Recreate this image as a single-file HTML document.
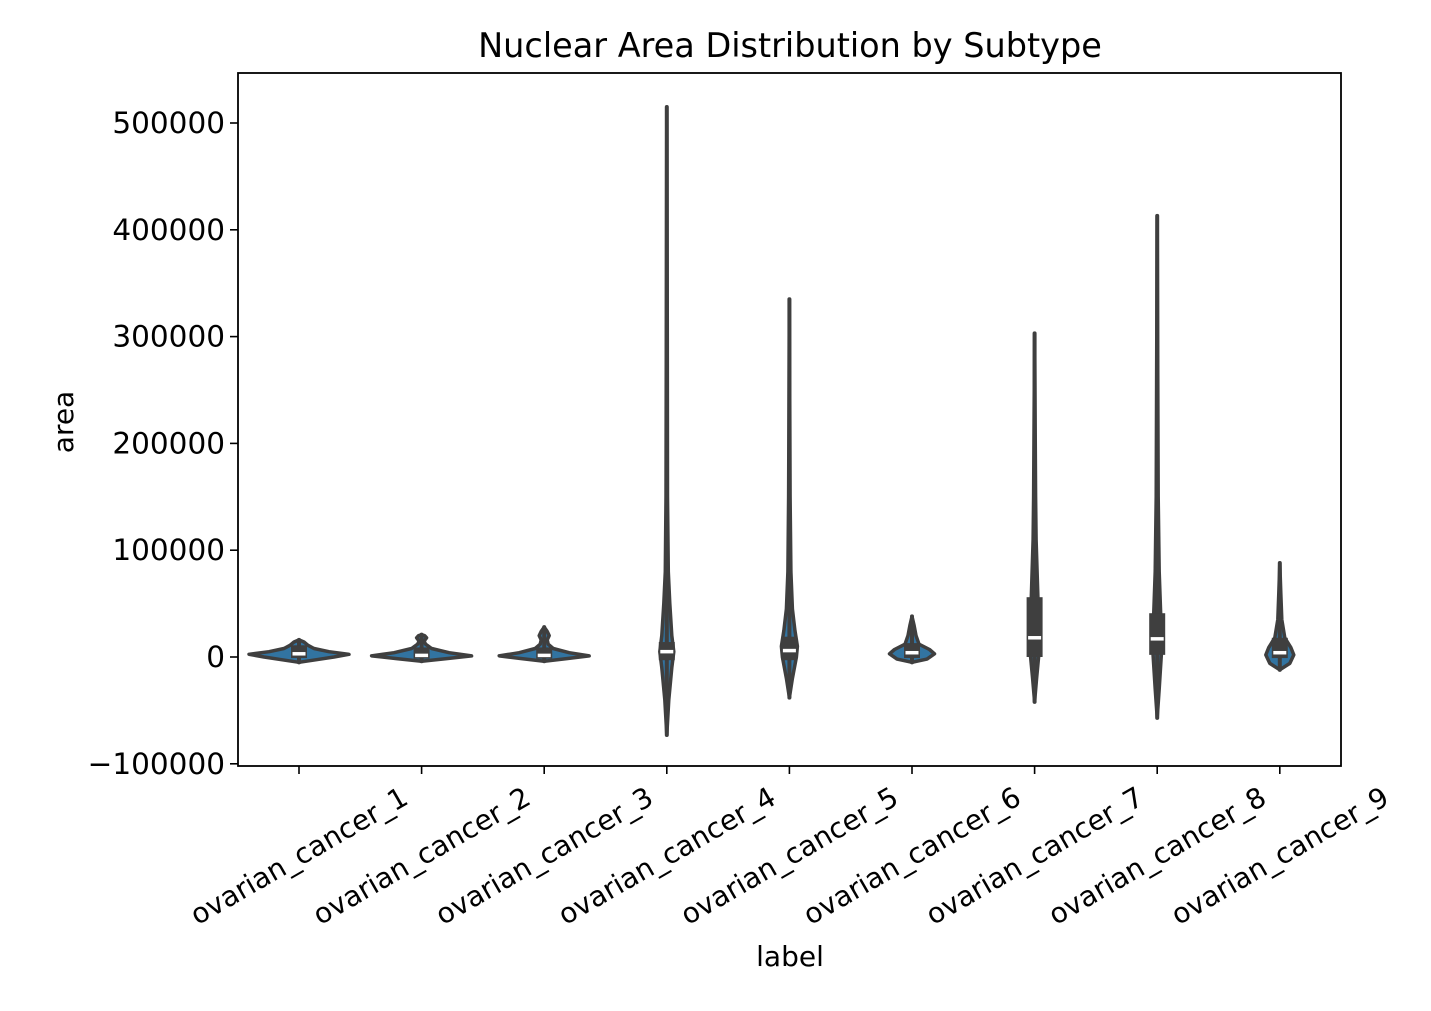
<!DOCTYPE html>
<html><head><meta charset="utf-8"><style>
html,body{margin:0;padding:0;background:#fff;}
svg text{font-family:"DejaVu Sans","Liberation Sans",sans-serif;fill:#000;}
</style></head><body>
<svg id="chart" width="1431" height="1006" viewBox="0 0 1431 1006" xmlns="http://www.w3.org/2000/svg">
<rect width="1431" height="1006" fill="#fff"/>
<text x="790" y="57" font-size="33.5" text-anchor="middle">Nuclear Area Distribution by Subtype</text>
<g id="marks"></g>
<g id="axes"></g>
<text transform="translate(73,422) rotate(-90)" font-size="28" text-anchor="middle">area</text>
<text x="790" y="966" font-size="28" text-anchor="middle">label</text>
</svg>
<script>
const categories = ["ovarian_cancer_1","ovarian_cancer_2","ovarian_cancer_3","ovarian_cancer_4","ovarian_cancer_5","ovarian_cancer_6","ovarian_cancer_7","ovarian_cancer_8","ovarian_cancer_9"];
const mins = [-5000,-4000,-4000,-73000,-38000,-5000,-42000,-57000,-12000];
const maxs = [16000,21000,28000,515000,335000,38000,303000,413000,88000];
const q1s = [-1000,-1500,-1500,-3000,-3000,-1000,0,2000,-1000];
const medians = [3000,1500,1500,5000,6000,4000,18000,17000,4000];
const q3s = [11000,9000,9000,14000,19000,13000,56000,41000,18000];
// density profiles: [value, relative half-width]
const densities = [
 [[-5000,0],[-2500,0.35],[0,0.7],[2500,1.0],[5000,0.6],[8000,0.3],[11000,0.18],[14000,0.1],[16000,0]],
 [[-4000,0],[-1500,0.5],[1000,1.0],[4000,0.55],[8000,0.2],[12000,0.08],[15000,0.05],[18000,0.1],[20000,0.06],[21000,0]],
 [[-4000,0],[-1500,0.45],[1000,0.9],[4000,0.5],[8000,0.18],[12000,0.08],[16000,0.06],[20000,0.1],[24000,0.06],[28000,0]],
 [[-73000,0],[-40000,0.04],[-10000,0.1],[5000,0.14],[20000,0.1],[50000,0.06],[80000,0.03],[150000,0.015],[300000,0.01],[515000,0]],
 [[-38000,0],[-20000,0.06],[0,0.14],[10000,0.16],[25000,0.11],[45000,0.06],[80000,0.03],[150000,0.015],[335000,0]],
 [[-5000,0],[-2000,0.3],[3000,0.45],[7000,0.35],[12000,0.14],[20000,0.08],[30000,0.04],[38000,0]],
 [[-42000,0],[-20000,0.04],[0,0.08],[20000,0.1],[50000,0.07],[110000,0.03],[150000,0.02],[303000,0]],
 [[-57000,0],[-30000,0.04],[0,0.08],[15000,0.1],[40000,0.07],[80000,0.04],[150000,0.02],[413000,0]],
 [[-12000,0],[-6000,0.2],[2000,0.28],[9000,0.22],[18000,0.1],[35000,0.04],[60000,0.02],[88000,0]]
];
const yTicks = [-100000,0,100000,200000,300000,400000,500000];
const yTickLabels = ["\u2212100000","0","100000","200000","300000","400000","500000"];

const NS="http://www.w3.org/2000/svg";
const L=238,R=1341,T=73,B=766;
function yScale(v){return 657 - v*106.8/100000;}
function xScale(i){return 299 + i*122.6;}
const HW=50;
function mk(tag,attrs,parent){const e=document.createElementNS(NS,tag);for(const k in attrs)e.setAttribute(k,attrs[k]);parent.appendChild(e);return e;}
const marks=document.getElementById('marks');
const axes=document.getElementById('axes');

categories.forEach((c,i)=>{
  const cx=xScale(i);
  const d=densities[i];
  let right=d.map(p=>(cx+p[1]*HW).toFixed(1)+","+yScale(p[0]).toFixed(1));
  let left=d.slice().reverse().map(p=>(cx-p[1]*HW).toFixed(1)+","+yScale(p[0]).toFixed(1));
  const v=mk('polygon',{points:right.concat(left).join(" "),fill:"#3274a1",stroke:"#3f3f3f","stroke-width":3.5,"stroke-linejoin":"round"},marks);
  
  
  const w=mk('line',{x1:cx,x2:cx,y1:yScale(mins[i]),y2:yScale(maxs[i]),stroke:"#3f3f3f","stroke-width":4,"stroke-linecap":"round"},marks);
  
  
  const b=mk('rect',{x:cx-8,y:yScale(q3s[i]),width:16,height:yScale(q1s[i])-yScale(q3s[i]),fill:"#3f3f3f"},marks);
  
  
  const m=mk('line',{x1:cx-6.5,x2:cx+6.5,y1:yScale(medians[i]),y2:yScale(medians[i]),stroke:"#fff","stroke-width":3.5},marks);
  
  
  const t=mk('line',{x1:cx,x2:cx,y1:B,y2:B+8,stroke:"#000","stroke-width":1.6},axes);
  
  
  const lb=mk('text',{transform:`translate(${cx},856) rotate(-30)`,"font-size":28,"text-anchor":"middle","dominant-baseline":"central"},axes);
  lb.textContent=c;
  
  
});
yTicks.forEach((v,i)=>{
  const y=yScale(v);
  const t=mk('line',{x1:L-8,x2:L,y1:y,y2:y,stroke:"#000","stroke-width":1.6},axes);
  
  
  const lb=mk('text',{x:L-13,y:y+10,"font-size":29.5,"text-anchor":"end"},axes);
  lb.textContent=yTickLabels[i];
  
  
});
const fr=mk('rect',{x:L,y:T,width:R-L,height:B-T,fill:"none",stroke:"#000","stroke-width":1.8},axes);


</script>
</body></html>
